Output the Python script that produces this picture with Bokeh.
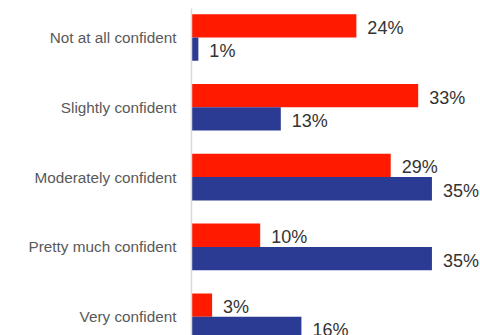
from bokeh.plotting import figure
from bokeh.models import ColumnDataSource, Range1d, FixedTicker
from bokeh.embed import file_html
from bokeh.resources import INLINE
from bokeh.core.properties import value

categories = ["Not at all confident", "Slightly confident", "Moderately confident",
              "Pretty much confident", "Very confident"]
red_values = [24, 33, 29, 10, 3]
blue_values = [1, 13, 35, 35, 16]

RED = "#FF1A00"
BLUE = "#2B3A92"

pos = list(range(len(categories)))
half = 0.167
red_src = ColumnDataSource(dict(y=[i - half for i in pos], v=red_values,
                                lab=[f"{v}%" for v in red_values]))
blue_src = ColumnDataSource(dict(y=[i + half for i in pos], v=blue_values,
                                 lab=[f"{v}%" for v in blue_values]))

p = figure(width=480, height=335, output_backend="svg", toolbar_location=None,
           x_range=Range1d(0, 42.07), y_range=Range1d(4.269, -0.4155),
           min_border_left=191, min_border_right=0, min_border_top=8, min_border_bottom=0)
p.outline_line_color = None
p.grid.visible = False
p.xaxis.visible = False
p.background_fill_color = "white"
p.border_fill_color = "white"

bar_h = 0.334
p.hbar(y="y", left=0, right="v", height=bar_h, source=red_src, fill_color=RED, line_color=None)
p.hbar(y="y", left=0, right="v", height=bar_h, source=blue_src, fill_color=BLUE, line_color=None)

for src in (red_src, blue_src):
    p.text(x="v", y="y", text="lab", source=src, x_offset=11, y_offset=2,
           text_baseline="middle", text_align="left",
           text_font=value("Liberation Sans"), text_font_size="18px", text_color="#333333")

ya = p.yaxis[0]
ya.ticker = FixedTicker(ticks=pos)
ya.major_label_overrides = {i: c for i, c in zip(pos, categories)}
ya.major_tick_line_color = None
ya.minor_tick_line_color = None
ya.major_tick_in = 0
ya.major_tick_out = 0
ya.axis_line_color = "#d9d9d9"
ya.axis_line_width = 1.5
ya.major_label_standoff = 15
ya.major_label_text_font = "Liberation Sans"
ya.major_label_text_font_size = "15.3px"
ya.major_label_text_color = "#595959"

open("out.html", "w").write(file_html(p, INLINE))
